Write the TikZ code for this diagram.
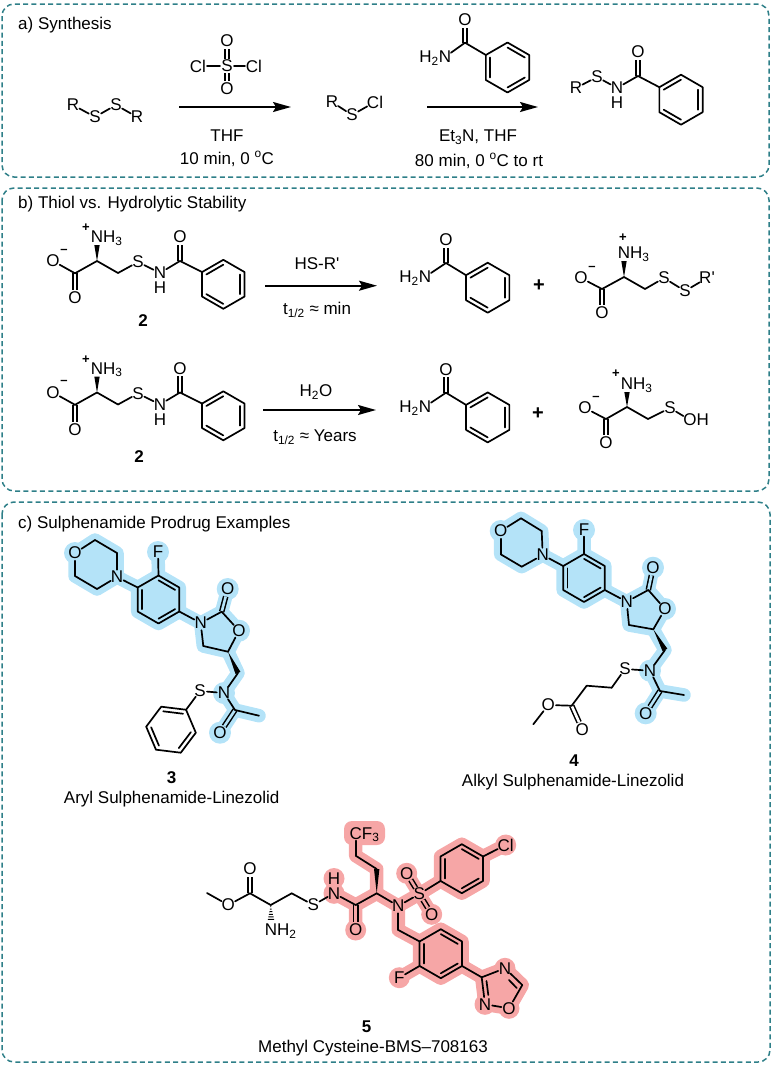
\documentclass[tikz,border=0pt]{standalone}
\usepackage{fontspec}
\setmainfont{Liberation Sans}
\usetikzlibrary{arrows.meta,calc,backgrounds}
\definecolor{panelteal}{HTML}{2E7F88}
\definecolor{haloblue}{HTML}{B4E3F8}
\definecolor{halored}{HTML}{F6A6A6}
\tikzset{
panel/.style={draw=panelteal,line width=1.5pt,dash pattern=on 5pt off 3.3pt,rounded corners=12pt},
atom/.style={circle,inner sep=-1pt},
tailr/.style={anchor=base west,inner sep=0pt},
taill/.style={anchor=base east,inner sep=0pt},
txt/.style={inner sep=0pt},
chg/.style={inner sep=0pt,font=\fontsize{13}{15}\selectfont\bfseries},
plussign/.style={inner sep=0pt,font=\fontsize{20}{22}\selectfont\bfseries},
bond/.style={line width=1.7pt,line cap=round,line join=round},
dbl/.style={double,double distance=2.6pt,line width=1.5pt,line cap=butt},
dblb/.style={dbl,double=haloblue},
dblr/.style={dbl,double=halored},
rxn/.style={line width=1.7pt,-{Stealth[length=18pt,width=10pt,inset=3pt]}},
halob/.style={draw=haloblue,line width=13.5pt,line cap=round,line join=round},
halor/.style={draw=halored,line width=13.5pt,line cap=round,line join=round},
}
\newcommand{\phring}[5]{
\coordinate (#1c) at (#2,#3);
\foreach \i in {1,...,6} {\coordinate (#1\i) at ({#2+#4*cos(#5+60*(\i-1))},{#3-#4*sin(#5+60*(\i-1))});}
\draw[bond] (#11)--(#12)--(#13)--(#14)--(#15)--(#16)--cycle;
\draw[bond] ($(#11)!.2!(#1c)$)--($(#12)!.2!(#1c)$);
\draw[bond] ($(#13)!.2!(#1c)$)--($(#14)!.2!(#1c)$);
\draw[bond] ($(#15)!.2!(#1c)$)--($(#16)!.2!(#1c)$);
}
\newcommand{\wdg}[2]{\fill (#1) -- ($(#2)!2.7pt!90:(#1)$) -- ($(#2)!2.7pt!-90:(#1)$) -- cycle;}
\newcommand{\hashb}[2]{\foreach \t in {.1,.26,.42,.58,.74,.9} {\draw[line width=1pt] ($($(#1)!\t!(#2)$)!{\t*3.5pt}!90:(#2)$) -- ($($(#1)!\t!(#2)$)!{\t*3.5pt}!-90:(#2)$);}}
\begin{document}
\begin{tikzpicture}[x=1pt,y=-1pt,every node/.style={font=\fontsize{17}{20}\selectfont}]
\useasboundingbox (0,0) rectangle (774,1066);
\draw[panel] (2,4) rectangle (769,177);
\draw[panel] (2,188) rectangle (769,491);
\draw[panel] (2,502) rectangle (770,1062);
\node[txt,anchor=west] (ta) at (18,25) {a) Synthesis};
\node[txt,anchor=west] (tb) at (18,204) {b) Thiol vs. Hydrolytic Stability};
\node[txt,anchor=west] (tc) at (18,524) {c) Sulphenamide Prodrug Examples};

\node[atom] (Ra) at (73,105) {R};
\node[atom] (Sa) at (95,117) {S};
\node[atom] (Sb) at (116,105) {S};
\node[atom] (Rb) at (137,117) {R};
\path[bond] (Ra) edge (Sa) (Sa) edge (Sb) (Sb) edge (Rb);
\node[atom] (Ox1) at (227,41) {O};
\node[atom] (Sx) at (227,66) {S};
\node[atom] (Ox2) at (227,89) {O};
\node[atom] (Clx1) at (198,66) {Cl};
\node[atom] (Clx2) at (254,66) {Cl};
\path[bond] (Sx) edge[dbl] (Ox1) (Sx) edge[dbl] (Ox2) (Sx) edge (Clx1) (Sx) edge (Clx2);
\coordinate (a1s) at (179,107);
\coordinate (a1e) at (291,107);
\draw[rxn] (a1s) -- (a1e);
\node[txt] (thf) at (227,136) {THF};
\node[txt] (c10) at (227,159) {10 min, 0 \textsuperscript{o}C};
\node[atom] (Rc) at (332,102) {R};
\node[atom] (Sc) at (352,115) {S};
\node[atom] (Clc) at (375,102) {Cl};
\path[bond] (Rc) edge (Sc) (Sc) edge (Clc);
\coordinate (a2s) at (427,107);
\coordinate (a2e) at (538,107);
\draw[rxn] (a2s) -- (a2e);
\phring{ba}{507.5}{67.5}{25}{30}
\node[atom] (Nba) at (445,57) {N};
\node[taill] (Hba) at ([xshift=-6pt]Nba.base) {H\textsubscript{2}};
\coordinate (Cba) at (465,42.7);
\node[atom] (Oba) at (465,20) {O};
\path[bond] (Cba) edge[dbl] (Oba) (Nba) edge (Cba) (Cba) edge (ba3);
\node[txt] (et) at (478,137) {Et\textsubscript{3}N, THF};
\node[txt] (c80) at (479,161) {80 min, 0 \textsuperscript{o}C to rt};
\phring{pa}{681}{99.7}{25}{90}
\node[atom] (Rp) at (576,88) {R};
\node[atom] (Sp) at (597,77) {S};
\node[atom] (Np) at (617,88) {N};
\node[atom] (Hp) at (617,103) {H};
\coordinate (Cp) at (638,76);
\node[atom] (Op) at (638,52) {O};
\path[bond] (Cp) edge[dbl] (Op) (Rp) edge (Sp) (Sp) edge (Np) (Np) edge (Cp) (Cp) edge (pa2);

\foreach \m/\dy in {t/0,u/131.5} {
\phring{\m r}{223.3}{284.3+\dy}{24.5}{90}
\node[atom] (\m N) at (97,237+\dy) {N};
\node[tailr] (\m H) at ([xshift=6pt]\m N.base) {H\textsubscript{3}};
\node[chg] (\m p) at (86,228+\dy) {+};
\coordinate (\m a) at (97,261+\dy);
\coordinate (\m w) at (97,245+\dy);
\wdg{\m a}{\m w}
\node[atom] (\m O) at (53,261+\dy) {O};
\node[chg] (\m m) at (64,251+\dy) {–};
\coordinate (\m C) at (75,273.3+\dy);
\node[atom] (\m Q) at (75,298+\dy) {O};
\coordinate (\m b) at (118,273+\dy);
\node[atom] (\m S) at (138,262+\dy) {S};
\node[atom] (\m I) at (160,273+\dy) {N};
\node[atom] (\m J) at (160,288+\dy) {H};
\coordinate (\m D) at (180,261+\dy);
\node[atom] (\m E) at (180,237+\dy) {O};
\path[bond] (\m C) edge[dbl] (\m Q) (\m D) edge[dbl] (\m E) (\m O) edge (\m C) (\m C) edge (\m a) (\m a) edge (\m b) (\m b) edge (\m S) (\m S) edge (\m I) (\m I) edge (\m D) (\m D) edge (\m r2);
}
\node[txt] (two1) at (143,321) {\bfseries 2};
\node[txt] (two2) at (139,457) {\bfseries 2};
\coordinate (a3s) at (265,285.7);
\coordinate (a3e) at (377,285.7);
\draw[rxn] (a3s) -- (a3e);
\node[txt] (hsr) at (317,264) {HS-R\textquotesingle};
\node[txt] (tmin) at (317,310) {t\textsubscript{1/2} ≈ min};
\coordinate (a4s) at (263,410);
\coordinate (a4e) at (376,410);
\draw[rxn] (a4s) -- (a4e);
\node[txt] (h2o) at (316,392) {H\textsubscript{2}O};
\node[txt] (tyr) at (315,437) {t\textsubscript{1/2} ≈ Years};

\foreach \m/\dy in {v/0,w/129.7} {
\phring{\m r}{487.7}{287.7+\dy}{25}{90}
\node[atom] (\m N) at (425,277+\dy) {N};
\node[taill] (\m H) at ([xshift=-6pt]\m N.base) {H\textsubscript{2}};
\coordinate (\m C) at (446,263+\dy);
\node[atom] (\m O) at (446,240+\dy) {O};
\path[bond] (\m C) edge[dbl] (\m O) (\m N) edge (\m C) (\m C) edge (\m r2);
}
\node[plussign] (plus1) at (539,286) {+};
\node[plussign] (plus2) at (538,414) {+};
\node[atom] (xN) at (624,253) {N};
\node[tailr] (xH) at ([xshift=6pt]xN.base) {H\textsubscript{3}};
\node[chg] (xp) at (623,238) {+};
\coordinate (xa) at (624,277);
\coordinate (xw) at (624,261);
\wdg{xa}{xw}
\node[atom] (xO) at (581,278) {O};
\node[chg] (xm) at (592,268) {–};
\coordinate (xC) at (602,289);
\node[atom] (xQ) at (602,313) {O};
\coordinate (xb) at (645,289);
\node[atom] (xS) at (664,278) {S};
\node[atom] (xT) at (685,291) {S};
\node[atom] (xR) at (707,278) {R\textquotesingle};
\path[bond] (xC) edge[dbl] (xQ) (xO) edge (xC) (xC) edge (xa) (xa) edge (xb) (xb) edge (xS) (xS) edge (xT) (xT) edge (xR);
\node[atom] (yN) at (627,384) {N};
\node[tailr] (yH) at ([xshift=6pt]yN.base) {H\textsubscript{3}};
\node[chg] (yp) at (616,374) {+};
\coordinate (ya) at (627,407);
\coordinate (yw) at (627,392);
\wdg{ya}{yw}
\node[atom] (yO) at (585,408) {O};
\node[chg] (ym) at (596,398) {–};
\coordinate (yC) at (606,419);
\node[atom] (yQ) at (606,443) {O};
\coordinate (yb) at (648,419);
\node[atom] (yS) at (670,408) {S};
\node[atom] (yT) at (690,420) {O};
\node[tailr] (yU) at ([xshift=6.5pt]yT.base) {H};
\path[bond] (yC) edge[dbl] (yQ) (yO) edge (yC) (yC) edge (ya) (ya) edge (yb) (yb) edge (yS) (yS) edge (yT);

\node[atom] (mO) at (75,553) {O};
\coordinate (m2) at (95,540);
\coordinate (m3) at (117,553);
\node[atom] (mN) at (117,577) {N};
\coordinate (m5) at (97,589);
\coordinate (m6) at (75,576);
\path[bond] (mO) edge (m2) (m2) edge (m3) (m3) edge (mN) (mN) edge (m5) (m5) edge (m6) (m6) edge (mO);
\phring{ar}{158.5}{599.5}{24}{30}
\node[atom] (mF) at (158,552) {F};
\node[atom] (oN) at (200.7,623) {N};
\coordinate (oC) at (221.7,611.7);
\node[atom] (oQ) at (227.7,589) {O};
\node[atom] (oO) at (239,630.7) {O};
\coordinate (o5) at (228,651.7);
\coordinate (o4) at (203.3,646);
\coordinate (oM) at (238,673);
\wdg{o5}{oM}
\node[atom] (aN) at (224,693) {N};
\node[atom] (aS) at (200,691) {S};
\coordinate (aC) at (235,710);
\coordinate (aM) at (259,715.7);
\node[atom] (aO) at (220,732.7) {O};
\phring{ph}{171}{729.7}{25}{53}
\path[bond] (oC) edge[dblb] (oQ) (aC) edge[dblb] (aO) (mN) edge (ar3) (ar2) edge (mF) (ar6) edge (oN) (oN) edge (oC) (oC) edge (oO) (oO) edge (o5) (o5) edge (o4) (o4) edge (oN) (oM) edge (aN) (aN) edge (aS) (aN) edge (aC) (aC) edge (aM) (aS) edge (ph1);
\node[txt] (three) at (171.7,778) {\bfseries 3};
\node[txt] (arname) at (171.7,799) {Aryl Sulphenamide-Linezolid};
\begin{scope}[on background layer]
\fill[haloblue] (mO.center) -- (m2) -- (m3) -- (mN.center) -- (m5) -- (m6) -- cycle;
\draw[halob] (mO.center) -- (m2) -- (m3) -- (mN.center) -- (m5) -- (m6) -- cycle;
\draw[halob] (mN.center) -- (ar3) (ar2) -- (mF.center) (ar6) -- (oN.center) (oC) -- (oQ.center) (o5) -- (oM) -- (aN.center) -- (aC) -- (aM) (aC) -- (aO.center);
\fill[haloblue] (ar1) -- (ar2) -- (ar3) -- (ar4) -- (ar5) -- (ar6) -- cycle;
\draw[halob] (ar1) -- (ar2) -- (ar3) -- (ar4) -- (ar5) -- (ar6) -- cycle;
\fill[haloblue] (oN.center) -- (oC) -- (oO.center) -- (o5) -- (o4) -- cycle;
\draw[halob] (oN.center) -- (oC) -- (oO.center) -- (o5) -- (o4) -- cycle;
\foreach \a in {mO,mF,oQ,oO,aO,aN} {\fill[haloblue] (\a.center) circle (11);}
\end{scope}

\node[atom] (nO) at (500.7,531) {O};
\coordinate (n2) at (521,518.3);
\coordinate (n3) at (541.7,531);
\node[atom] (nN) at (542.7,555) {N};
\coordinate (n5) at (521.7,566.7);
\coordinate (n6) at (500.7,554.3);
\path[bond] (nO) edge (n2) (n2) edge (n3) (n3) edge (nN) (nN) edge (n5) (n5) edge (n6) (n6) edge (nO);
\phring{br}{584}{578}{24}{30}
\node[atom] (nF) at (584,530) {F};
\node[atom] (pN) at (626.7,601.7) {N};
\coordinate (pC) at (648.3,590);
\node[atom] (pQ) at (653,567.7) {O};
\node[atom] (pO) at (665,609) {O};
\coordinate (p5) at (653.3,629.3);
\coordinate (p4) at (629,625);
\coordinate (pM) at (665,650);
\wdg{p5}{pM}
\node[atom] (bN) at (650,670.7) {N};
\node[atom] (bS) at (625,669) {S};
\coordinate (bC) at (660,691);
\coordinate (bM) at (684,695);
\node[atom] (bO) at (645.7,713.3) {O};
\coordinate (c1) at (611.7,687.7);
\coordinate (c2) at (586.7,685.7);
\coordinate (c3) at (571.7,705.7);
\node[atom] (cQ) at (582.3,729.3) {O};
\node[atom] (cO) at (548.3,705) {O};
\coordinate (cM) at (533.3,724.3);
\path[bond] (pC) edge[dblb] (pQ) (bC) edge[dblb] (bO) (c3) edge[dbl] (cQ) (nN) edge (br3) (br2) edge (nF) (br6) edge (pN) (pN) edge (pC) (pC) edge (pO) (pO) edge (p5) (p5) edge (p4) (p4) edge (pN) (pM) edge (bN) (bN) edge (bS) (bN) edge (bC) (bC) edge (bM) (bS) edge (c1) (c1) edge (c2) (c2) edge (c3) (c3) edge (cO) (cO) edge (cM);
\node[txt] (four) at (574,761) {\bfseries 4};
\node[txt] (brname) at (573,782) {Alkyl Sulphenamide-Linezolid};
\begin{scope}[on background layer]
\fill[haloblue] (nO.center) -- (n2) -- (n3) -- (nN.center) -- (n5) -- (n6) -- cycle;
\draw[halob] (nO.center) -- (n2) -- (n3) -- (nN.center) -- (n5) -- (n6) -- cycle;
\draw[halob] (nN.center) -- (br3) (br2) -- (nF.center) (br6) -- (pN.center) (pC) -- (pQ.center) (p5) -- (pM) -- (bN.center) -- (bC) -- (bM) (bC) -- (bO.center);
\fill[haloblue] (br1) -- (br2) -- (br3) -- (br4) -- (br5) -- (br6) -- cycle;
\draw[halob] (br1) -- (br2) -- (br3) -- (br4) -- (br5) -- (br6) -- cycle;
\fill[haloblue] (pN.center) -- (pC) -- (pO.center) -- (p5) -- (p4) -- cycle;
\draw[halob] (pN.center) -- (pC) -- (pO.center) -- (p5) -- (p4) -- cycle;
\foreach \a in {nO,nF,pQ,pO,bO,bN} {\fill[haloblue] (\a.center) circle (11);}
\end{scope}

\coordinate (dM) at (207,893);
\node[atom] (dO) at (228.3,905) {O};
\coordinate (dC) at (250,893.3);
\node[atom] (dQ) at (250,869) {O};
\coordinate (da) at (270.7,905);
\node[atom] (dN) at (271,930) {N};
\node[tailr] (dH) at ([xshift=6pt]dN.base) {H\textsubscript{2}};
\coordinate (dw) at (271,921);
\hashb{da}{dw}
\coordinate (db) at (291.7,893.3);
\node[atom] (dS) at (313.3,905) {S};
\node[atom] (eN) at (334,893.3) {N};
\node[txt] (eH) at (334,878.5) {H};
\coordinate (eC) at (355.7,905);
\node[atom] (eO) at (355.7,930) {O};
\coordinate (ea) at (376.7,893.3);
\coordinate (ew) at (376.7,869);
\wdg{ea}{ew}
\coordinate (eb) at (355.7,855.7);
\node[atom] (eF) at (355.7,833.3) {C};
\node[tailr] (eG) at ([xshift=6pt]eF.base) {F\textsubscript{3}};
\node[atom] (fN) at (398.3,906) {N};
\node[atom] (fS) at (419.3,894) {S};
\node[atom] (fO) at (406.7,873.3) {O};
\node[atom] (fQ) at (431.7,914.3) {O};
\phring{sr}{461.8}{868.7}{24.5}{30}
\node[atom] (fC) at (505.7,845) {Cl};
\coordinate (gb) at (398.3,930);
\phring{tr}{440.8}{953.7}{24.5}{30}
\node[atom] (gF) at (399.3,977.7) {F};
\coordinate (h3) at (481.7,977.3);
\node[atom] (hN) at (505,968.3) {N};
\coordinate (hc) at (522.3,985);
\node[atom] (hO) at (509,1008.3) {O};
\node[atom] (hM) at (485,1004.3) {N};
\coordinate (hi1) at (486.5,981);
\coordinate (hi2) at (488.3,995);
\coordinate (hi3) at (509,980);
\coordinate (hi4) at (516.7,988);
\path[bond] (eC) edge[dblr] (eO) (fS) edge[dblr] (fO) (fS) edge[dblr] (fQ) (dC) edge[dbl] (dQ) (dM) edge (dO) (dO) edge (dC) (dC) edge (da) (da) edge (db) (db) edge (dS) (dS) edge (eN) (eN) edge (eC) (eC) edge (ea) (ew) edge (eb) (eb) edge (eF) (ea) edge (fN) (fN) edge (fS) (fS) edge (sr4) (sr1) edge (fC) (fN) edge (gb) (gb) edge (tr3) (tr4) edge (gF) (tr6) edge (h3) (h3) edge (hN) (hN) edge (hc) (hc) edge (hO) (hO) edge (hM) (hM) edge (h3) (hi1) edge (hi2) (hi3) edge (hi4);
\node[txt] (five) at (366.7,1026.7) {\bfseries 5};
\node[txt] (crname) at (373,1048) {Methyl Cysteine-BMS–708163};
\begin{scope}[on background layer]
\draw[halor] (eH.center) -- (eN.center) -- (eC) -- (ea) -- (ew) -- (eb) -- (eF.center) (eC) -- (eO.center) (ea) -- (fN.center) -- (fS.center) -- (sr4) (fO.center) -- (fS.center) -- (fQ.center) (sr1) -- (fC.center) (fN.center) -- (gb) -- (tr3) (tr4) -- (gF.center) (tr6) -- (h3);
\fill[halored,rounded corners=8pt] (344,821) rectangle (385,845);
\fill[halored] (sr1) -- (sr2) -- (sr3) -- (sr4) -- (sr5) -- (sr6) -- cycle;
\draw[halor] (sr1) -- (sr2) -- (sr3) -- (sr4) -- (sr5) -- (sr6) -- cycle;
\fill[halored] (tr1) -- (tr2) -- (tr3) -- (tr4) -- (tr5) -- (tr6) -- cycle;
\draw[halor] (tr1) -- (tr2) -- (tr3) -- (tr4) -- (tr5) -- (tr6) -- cycle;
\fill[halored] (h3) -- (hN.center) -- (hc) -- (hO.center) -- (hM.center) -- cycle;
\draw[halor] (h3) -- (hN.center) -- (hc) -- (hO.center) -- (hM.center) -- cycle;
\foreach \a in {eH,eN,eO,fO,fQ,fC,gF,hN,hO,hM} {\fill[halored] (\a.center) circle (10.5);}
\end{scope}
\end{tikzpicture}
\end{document}
